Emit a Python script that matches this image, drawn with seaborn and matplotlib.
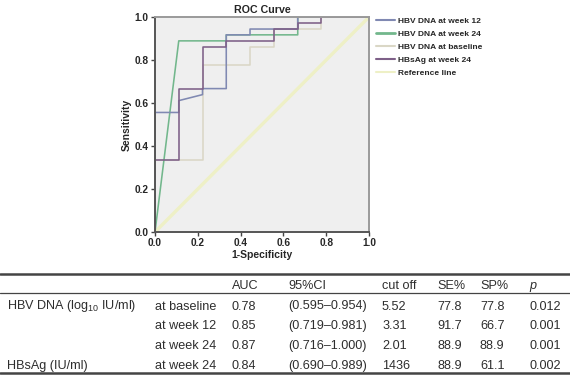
import matplotlib
matplotlib.use("Agg")
import matplotlib.pyplot as plt
from matplotlib.lines import Line2D
import seaborn as sns
import pandas as pd

# ---------------- data ----------------
series_names = ["HBV DNA at week 12", "HBV DNA at week 24", "HBV DNA at baseline",
                "HBsAg at week 24", "Reference line"]
series_colors = ["#8089b2", "#72b78c", "#dad7c6", "#7e6088", "#eef0c6"]

w12_x = [0, 0, 0.111, 0.111, 0.222, 0.222, 0.333, 0.333, 0.444, 0.444, 0.667, 0.667, 1.0]
w12_y = [0, 0.556, 0.556, 0.611, 0.639, 0.667, 0.667, 0.917, 0.917, 0.944, 0.944, 1.0, 1.0]

w24_x = [0, 0.111, 0.333, 0.333, 0.667, 0.667, 1.0]
w24_y = [0, 0.889, 0.889, 0.917, 0.917, 1.0, 1.0]

base_x = [0, 0, 0.222, 0.222, 0.444, 0.444, 0.556, 0.556, 0.778, 0.778, 1.0]
base_y = [0, 0.333, 0.333, 0.778, 0.778, 0.861, 0.861, 0.944, 0.944, 1.0, 1.0]

hbs_x = [0, 0, 0.111, 0.111, 0.222, 0.222, 0.333, 0.333, 0.556, 0.556, 0.667, 0.667, 0.778, 0.778, 1.0]
hbs_y = [0, 0.333, 0.333, 0.667, 0.667, 0.861, 0.861, 0.889, 0.889, 0.944, 0.944, 0.972, 0.972, 1.0, 1.0]

ref_x = [0, 1]
ref_y = [0, 1]

ticks = [0.0, 0.2, 0.4, 0.6, 0.8, 1.0]

table_header = ["AUC", "95%CI", "cut off", "SE%", "SP%", "p"]
row_group = [r"HBV DNA (log$_{\mathregular{10}}$ IU/ml)", "", "", "HBsAg (IU/ml)"]
row_time = ["at baseline", "at week 12", "at week 24", "at week 24"]
auc = ["0.78", "0.85", "0.87", "0.84"]
ci = ["(0.595\u20130.954)", "(0.719\u20130.981)", "(0.716\u20131.000)", "(0.690\u20130.989)"]
cutoff = ["5.52", "3.31", "2.01", "1436"]
se = ["77.8", "91.7", "88.9", "88.9"]
sp = ["77.8", "66.7", "88.9", "61.1"]
pval = ["0.012", "0.001", "0.001", "0.002"]

# ---------------- figure ----------------
sns.set_theme(style="white")
plt.rcParams["font.family"] = ["Liberation Sans", "DejaVu Sans"]
plt.rcParams["mathtext.fontset"] = "custom"
plt.rcParams["mathtext.rm"] = "Liberation Sans"

W, H = 570, 376
fig = plt.figure(figsize=(W / 100, H / 100), dpi=100)
ax = fig.add_axes([155 / W, 1 - 232 / H, 214 / W, 215 / H])
ax.set_facecolor("#efefef")

frames = []
for name, xs, ys in zip(series_names,
                        [w12_x, w24_x, base_x, hbs_x, ref_x],
                        [w12_y, w24_y, base_y, hbs_y, ref_y]):
    frames.append(pd.DataFrame({"fpr": xs, "tpr": ys, "series": name}))
df = pd.concat(frames, ignore_index=True)

pal = dict(zip(series_names, series_colors))
draw_order = ["Reference line", "HBV DNA at baseline", "HBV DNA at week 24",
              "HBV DNA at week 12", "HBsAg at week 24"]
for name in draw_order:
    sub = df[df["series"] == name]
    sns.lineplot(data=sub, x="fpr", y="tpr", sort=False, estimator=None,
                 color=pal[name], lw=2.4 if name == "Reference line" else 1.15,
                 ax=ax, legend=False)

ax.set_xlim(0, 1)
ax.set_ylim(0, 1)
ax.set_xticks(ticks)
ax.set_yticks(ticks)
ax.set_xticklabels([f"{t:.1f}" for t in ticks], fontsize=7.3, fontweight="bold")
ax.set_yticklabels([f"{t:.1f}" for t in ticks], fontsize=7.3, fontweight="bold")
ax.tick_params(axis="both", length=3, width=1, color="#444444", pad=1.5,
               bottom=True, left=True)
ax.set_xlabel("1-Specificity", fontsize=7.5, fontweight="bold", labelpad=1)
ax.set_ylabel("Sensitivity", fontsize=7.5, fontweight="bold", labelpad=2)
ax.set_title("ROC Curve", fontsize=7.7, fontweight="bold", pad=3)
for s in ["left", "bottom"]:
    ax.spines[s].set_color("#555555")
    ax.spines[s].set_linewidth(1.4)
for s in ["top", "right"]:
    ax.spines[s].set_color("#9a9a9a")
    ax.spines[s].set_linewidth(1.4)

# legend
handles = [Line2D([0], [0], color=c, lw=2.0 if i == 1 else 1.5) for i, c in enumerate(series_colors)]
leg = fig.legend(handles, series_names, loc="upper left",
                 bbox_to_anchor=(373 / W, 1 - 14 / H), frameon=False,
                 prop={"size": 6, "weight": "bold"}, handlelength=2.2,
                 handletextpad=0.45, labelspacing=0.62, borderaxespad=0)

# ---------------- table ----------------
def fy(py):
    return 1 - py / H

def hline(py, lw):
    fig.add_artist(Line2D([0, 1], [fy(py), fy(py)], transform=fig.transFigure,
                          color="#444444", lw=lw))

hline(273.5, 1.8)
hline(293, 0.9)
hline(373, 1.8)

tc = "#2e2e2e"
fs = 9.1
col_x = [232, 288, 382, 437, 480, 529]
header_y = 286
for x, t in zip(col_x, table_header):
    fig.text(x / W, fy(header_y), t, fontsize=fs, color=tc, va="center", ha="left",
             style="italic" if t == "p" else "normal")

row_y = [306.5, 326, 346, 366]
for i, y in enumerate(row_y):
    if row_group[i]:
        fig.text(7 / W, fy(y), row_group[i], fontsize=fs, color=tc, va="center", ha="left")
    fig.text(155 / W, fy(y), row_time[i], fontsize=fs, color=tc, va="center", ha="left")
    for x, v in zip(col_x, [auc[i], ci[i], cutoff[i], se[i], sp[i], pval[i]]):
        fig.text(x / W, fy(y), v, fontsize=fs, color=tc, va="center", ha="left")

fig.savefig("out.png", dpi=100)
